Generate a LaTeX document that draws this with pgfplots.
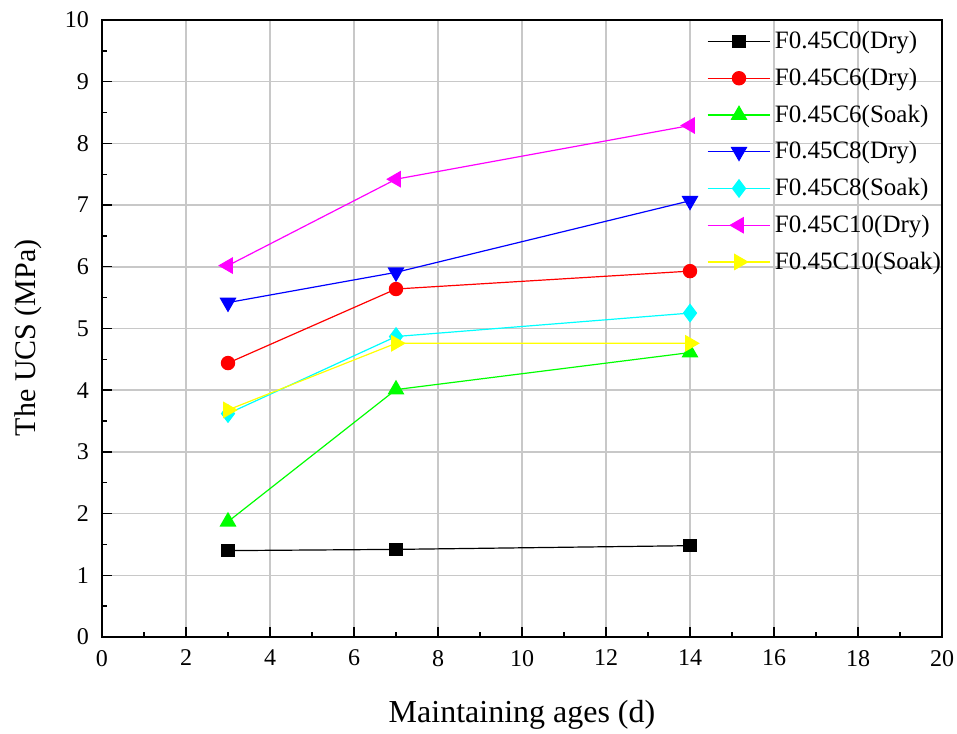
\documentclass[border=0pt]{standalone}
\usepackage{fontspec}
\setmainfont{Liberation Serif}
\usepackage{pgfplots}
\pgfplotsset{compat=1.18}
\definecolor{gridgray}{RGB}{200,200,200}
\definecolor{cR}{RGB}{255,0,0}
\definecolor{cG}{RGB}{0,255,0}
\definecolor{cB}{RGB}{0,0,255}
\definecolor{cC}{RGB}{0,255,255}
\definecolor{cM}{RGB}{255,0,255}
\definecolor{cY}{RGB}{255,255,0}
\begin{document}
\begin{tikzpicture}
\useasboundingbox (-51pt,-48pt) rectangle (427.5pt,318.5pt);
\begin{axis}[
  scale only axis,
  width=420pt, height=308.5pt,
  xmin=0, xmax=20, ymin=0, ymax=10,
  xtick={0,2,...,20}, ytick={0,1,...,10},
  minor x tick num=1, minor y tick num=1,
  tick align=inside,
  xtick pos=left, ytick pos=left,
  major tick length=5pt, minor tick length=2.5pt,
  tick style={black, line width=0.7pt},
  grid=major,
  major grid style={gridgray, line width=0.8pt},
  axis line style={line width=1pt},
  /pgf/number format/assume math mode=true,
  ticklabel style={font=\fontsize{12}{14}\selectfont},
  xticklabel style={yshift=-3pt},
  yticklabel style={xshift=-3pt},
  xlabel={Maintaining ages (d)},
  ylabel={The UCS (MPa)},
  xlabel style={font=\fontsize{16}{18}\selectfont, at={(axis description cs:0.5,0)}, anchor=base, yshift=-42.5pt},
  ylabel style={font=\fontsize{15}{17}\selectfont, at={(axis description cs:-0.088,0.485)}, anchor=center},
  legend style={draw=none, fill=none, at={(axis cs:14.35,9.92)}, anchor=north west,
    font=\fontsize{12.5}{14}\selectfont, row sep=4.2pt, inner sep=1pt},
  legend cell align=left,
  legend image code/.code={\draw[mark repeat=2,mark phase=2] plot coordinates {(0cm,0cm)(0.55cm,0cm)(1.1cm,0cm)};},
  every axis plot/.append style={line width=0.6pt},
]
\addplot[black, mark=square*, mark size=3pt] coordinates {(3,1.40) (7,1.42) (14,1.48)};
\addlegendentry{F0.45C0(Dry)}
\addplot[cR, mark=*, mark size=3.3pt] coordinates {(3,4.44) (7,5.64) (14,5.93)};
\addlegendentry{F0.45C6(Dry)}
\addplot[cG, mark=triangle*, mark size=4.3pt] coordinates {(3,1.87) (7,4.01) (14,4.61)};
\addlegendentry{F0.45C6(Soak)}
\addplot[cB, mark=triangle*, mark size=4.3pt, mark options={rotate=180}] coordinates {(3,5.42) (7,5.91) (14,7.07)};
\addlegendentry{F0.45C8(Dry)}
\addplot[cC, mark=diamond*, mark size=4.3pt] coordinates {(3,3.62) (7,4.87) (14,5.25)};
\addlegendentry{F0.45C8(Soak)}
\addplot[cM, mark=triangle*, mark size=4.3pt, mark options={rotate=90}] coordinates {(3,6.02) (7,7.42) (14,8.29)};
\addlegendentry{F0.45C10(Dry)}
\addplot[cY, mark=triangle*, mark size=4.3pt, mark options={rotate=-90}] coordinates {(3,3.68) (7,4.76) (14,4.76)};
\addlegendentry{F0.45C10(Soak)}
\end{axis}
\end{tikzpicture}
\end{document}
